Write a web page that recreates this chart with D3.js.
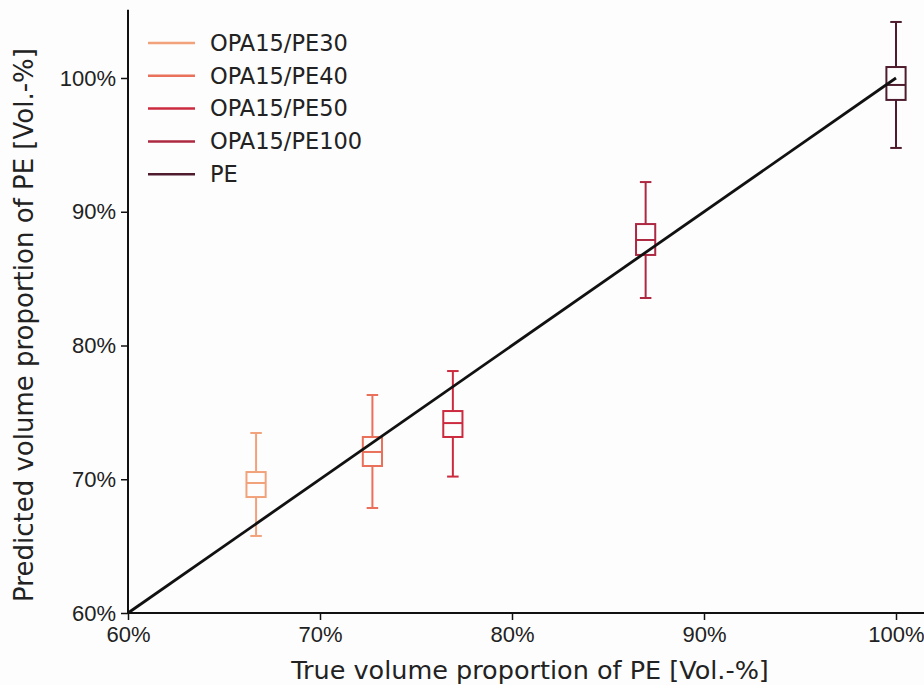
<!DOCTYPE html>
<html>
<head>
<meta charset="utf-8">
<script src="https://cdn.jsdelivr.net/npm/d3@7"></script>
<style>
  html, body { margin: 0; padding: 0; background: #fdfdfd; }
  svg { display: block; font-family: "DejaVu Sans", sans-serif; }
</style>
</head>
<body>
<svg id="chart" width="924" height="685"></svg>
<script>
const categories = ["OPA15/PE30", "OPA15/PE40", "OPA15/PE50", "OPA15/PE100", "PE"];
const trueVals    = [66.67, 72.73, 76.92, 86.96, 100];
const whiskerLow  = [65.76, 67.85, 70.20, 83.55, 94.77];
const q1Vals      = [68.67, 70.99, 73.16, 86.77, 98.36];
const medianVals  = [69.72, 72.04, 74.20, 87.89, 99.48];
const q3Vals      = [70.54, 73.16, 75.10, 89.08, 100.82];
const whiskerHigh = [73.46, 76.30, 78.09, 92.22, 104.19];
const colors = ["#f2a27a", "#e9705a", "#cc2b3f", "#ad2841", "#4e1c2e"];
const xTicks = [60, 70, 80, 90, 100];
const yTicks = [60, 70, 80, 90, 100];
const identityLine = [[60, 60], [100, 100]];

const svg = d3.select("#chart");
const x = d3.scaleLinear().domain([60, 100]).range([128, 896]);
const y = d3.scaleLinear().domain([60, 100]).range([613, 78]);
const yTop = 105.1;
const xRight = 101.5;

// axes
const xAxis = svg.append("g").attr("transform", "translate(0,613)")
  .call(d3.axisBottom(x).tickValues(xTicks).tickFormat(d => d + "%").tickSize(7).tickPadding(6));
xAxis.select(".domain").remove();
xAxis.append("line").attr("x1", x(60)).attr("x2", x(xRight)).attr("y1", 0).attr("y2", 0)
  .attr("stroke", "#111").attr("stroke-width", 2);
xAxis.selectAll(".tick line").attr("stroke", "#111").attr("stroke-width", 1.5);
xAxis.selectAll(".tick text").attr("fill", "#222").style("font-size", "22px");

const yAxis = svg.append("g").attr("transform", "translate(128,0)")
  .call(d3.axisLeft(y).tickValues(yTicks).tickFormat(d => d + "%").tickSize(7).tickPadding(5));
yAxis.select(".domain").remove();
yAxis.append("line").attr("x1", 0).attr("x2", 0).attr("y1", y(60)).attr("y2", y(yTop))
  .attr("stroke", "#111").attr("stroke-width", 2);
yAxis.selectAll(".tick line").attr("stroke", "#111").attr("stroke-width", 1.5);
yAxis.selectAll(".tick text").attr("fill", "#222").style("font-size", "22px");

// boxes
const bw = 1.0, cw = 0.6;
categories.forEach((c, i) => {
  const g = svg.append("g").attr("stroke", colors[i]).attr("stroke-width", 2).attr("fill", "none");
  const cx = trueVals[i];
  g.append("line").attr("x1", x(cx)).attr("x2", x(cx)).attr("y1", y(whiskerHigh[i])).attr("y2", y(q3Vals[i]));
  g.append("line").attr("x1", x(cx)).attr("x2", x(cx)).attr("y1", y(q1Vals[i])).attr("y2", y(whiskerLow[i]));
  g.append("line").attr("x1", x(cx - cw / 2)).attr("x2", x(cx + cw / 2)).attr("y1", y(whiskerHigh[i])).attr("y2", y(whiskerHigh[i]));
  g.append("line").attr("x1", x(cx - cw / 2)).attr("x2", x(cx + cw / 2)).attr("y1", y(whiskerLow[i])).attr("y2", y(whiskerLow[i]));
  g.append("rect").attr("x", x(cx - bw / 2)).attr("width", x(cx + bw / 2) - x(cx - bw / 2))
    .attr("y", y(q3Vals[i])).attr("height", y(q1Vals[i]) - y(q3Vals[i]));
  g.append("line").attr("x1", x(cx - bw / 2)).attr("x2", x(cx + bw / 2)).attr("y1", y(medianVals[i])).attr("y2", y(medianVals[i]));
});

// identity line
svg.append("path").datum(identityLine)
  .attr("d", d3.line().x(d => x(d[0])).y(d => y(d[1])))
  .attr("stroke", "#111").attr("stroke-width", 2.8).attr("fill", "none");

// legend
const leg = svg.append("g").attr("transform", "translate(148,43)");
categories.forEach((c, i) => {
  const row = leg.append("g").attr("transform", `translate(0,${i * 32.8})`);
  row.append("line").attr("x1", 0).attr("x2", 47).attr("y1", 0).attr("y2", 0)
    .attr("stroke", colors[i]).attr("stroke-width", 2.5);
  row.append("text").attr("x", 62).attr("y", 0).attr("dy", "0.35em")
    .attr("fill", "#222").style("font-size", "22.5px").text(c);
});

// axis labels
svg.append("text").attr("x", 530).attr("y", 679).attr("text-anchor", "middle")
  .attr("fill", "#222").style("font-size", "25.5px").text("True volume proportion of PE [Vol.-%]");
svg.append("text").attr("transform", `translate(33,${325}) rotate(-90)`).attr("text-anchor", "middle")
  .attr("fill", "#222").style("font-size", "26px").text("Predicted volume proportion of PE [Vol.-%]");
</script>
</body>
</html>
